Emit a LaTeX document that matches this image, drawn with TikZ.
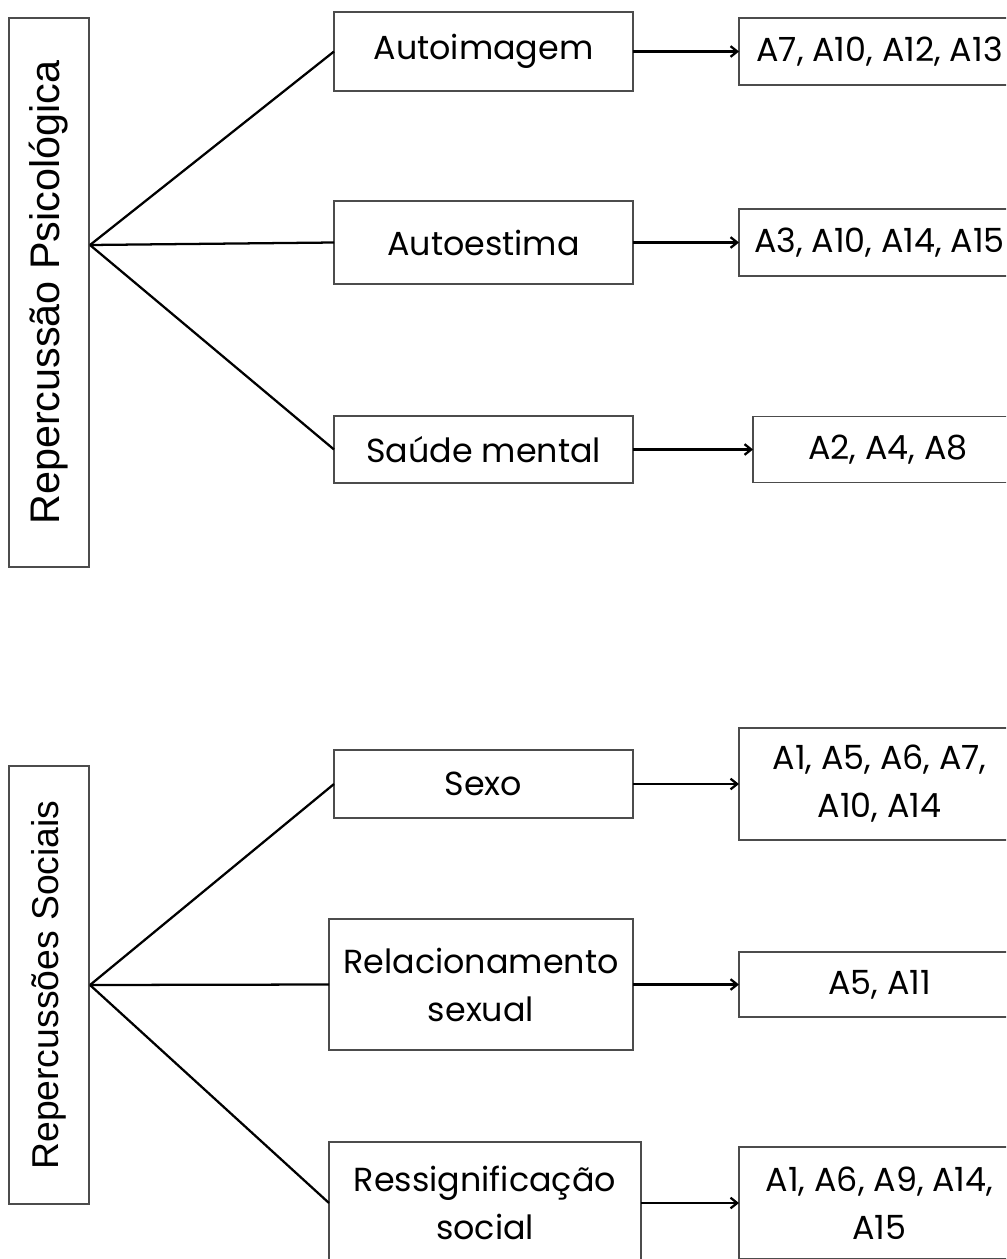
\documentclass[tikz,border=0pt]{standalone}
\usepackage{fontspec}
\setmainfont{Poppins}
\newfontfamily\arialfont{Liberation Sans}
\usetikzlibrary{arrows.meta}
\begin{document}
\begin{tikzpicture}[x=0.75pt,y=-0.75pt,
  box/.style={draw=black!70, line width=1pt, rectangle, inner sep=0pt, outer sep=0pt,
    align=center, text=black, font=\fontsize{25}{36}\selectfont},
  side/.style={box, rotate=90, minimum height=60pt},
  fan/.style={line width=1.7pt, black},
  arr/.style={line width=1.7pt, black, -{Straight Barb[length=5pt,width=8pt]}}]
\useasboundingbox (0,0) rectangle (1006,1259);
\clip (0,0) rectangle (1006,1259);

% ---- top group ----
\node[side, minimum width=411.75pt, font=\arialfont\fontsize{31}{34}\selectfont] (psi) at (49,292.5) {Repercussão Psicológica};
\coordinate (f1) at (90,245);

\node[box, minimum width=224.25pt, minimum height=59.25pt] (aimg) at (483.5,51.5) {Autoimagem};
\node[box, minimum width=210.75pt, minimum height=50.25pt] (r1) at (879.5,51.5) {A7, A10, A12, A13};

\node[box, minimum width=224.25pt, minimum height=62.25pt] (aest) at (483.5,242.5) {Autoestima};
\node[box, minimum width=210.75pt, minimum height=50.25pt] (r2) at (879.5,242.5) {A3, A10, A14, A15};

\node[box, minimum width=224.25pt, minimum height=50.25pt] (smen) at (483.5,449.5) {Saúde mental};
\node[box, minimum width=202.5pt, minimum height=49.5pt] (r3) at (888,449.5) {A2, A4, A8};

\draw[fan] (f1) -- (aimg.west);
\draw[fan] (f1) -- (aest.west);
\draw[fan] (f1) -- (smen.west);
\draw[arr] (aimg) -- (r1);
\draw[arr] (aest) -- (r2);
\draw[arr] (smen) -- (r3);

% ---- bottom group ----
\node[side, minimum width=328.5pt, font=\arialfont\fontsize{28}{31}\selectfont] (soc) at (49,985) {Repercussões Sociais};
\coordinate (f2) at (90,985);

\node[box, minimum width=224.25pt, minimum height=51pt] (sexo) at (483.5,784) {Sexo};
\node[box, minimum width=210.75pt, minimum height=84pt] (r4) at (879.5,784) {A1, A5, A6, A7,\\A10, A14};

\node[box, minimum width=228pt, minimum height=98.25pt] (rel) at (481,984.5) {Relacionamento\\sexual};
\node[box, minimum width=210.75pt, minimum height=48.75pt] (r5) at (879.5,984.5) {A5, A11};

\node[box, minimum width=234pt, minimum height=91.5pt] (ress) at (485,1203) {Ressignificação\\social};
\node[box, minimum width=210.75pt, minimum height=84pt] (r6) at (879.5,1203) {A1, A6, A9, A14,\\A15};

\draw[fan] (f2) -- (sexo.west);
\draw[fan] (f2) -- (rel.west);
\draw[fan] (f2) -- (ress.west);
\draw[arr] (sexo) -- (r4);
\draw[arr] (rel) -- (r5);
\draw[arr] (ress) -- (r6);
\end{tikzpicture}
\end{document}
